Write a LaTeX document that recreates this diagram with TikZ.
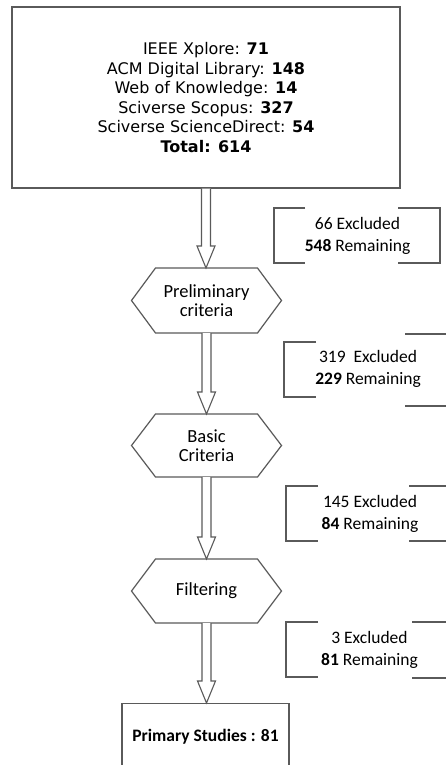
\documentclass[tikz,border=0pt]{standalone}
\usepackage{fontspec}
\setmainfont{DejaVu Sans}
\newfontfamily\calibri{Carlito}
\usetikzlibrary{calc}
\definecolor{linegray}{HTML}{5A5A5A}
\tikzset{
  edge/.style={draw=linegray, line width=1.2pt},
  arrowline/.style={draw=linegray, line width=1.1pt, fill=white, line join=miter},
  srcbox/.style={edge, minimum width=388pt, minimum height=181pt, inner sep=0pt, align=center,
    font=\fontsize{16}{19.5}\selectfont},
  hexa/.style={minimum width=150pt, minimum height=64pt, inner sep=0pt, outer sep=0pt, align=center,
    font=\calibri\fontsize{18.5}{18.5}\selectfont},
  sidetext/.style={align=center, inner sep=0pt, font=\calibri\fontsize{17.5}{22}\selectfont},
  primbox/.style={edge, anchor=north, minimum width=167pt, inner xsep=0pt, inner ysep=26pt,
    font=\calibri\bfseries\fontsize{17.5}{18}\selectfont}
}
\newcommand\hexdraw[1]{\draw[edge] (#1.west) -- ($(#1.north west)+(24,0)$) -- ($(#1.north east)+(-24,0)$) -- (#1.east) -- ($(#1.south east)+(-24,0)$) -- ($(#1.south west)+(24,0)$) -- cycle;}
\newcommand\blockarr[2]{\draw[arrowline] let \p1=(#1.south), \p2=(#2.north) in
  (\x1-4.5pt,\y1) -- (\x1-4.5pt,\y2+22pt) -- (\x1-9pt,\y2+22pt) -- (\x1,\y2) -- (\x1+9pt,\y2+22pt) -- (\x1+4.5pt,\y2+22pt) -- (\x1+4.5pt,\y1);}
\begin{document}
\begin{tikzpicture}[x=1pt,y=-1pt]
\useasboundingbox (0,0) rectangle (446,765);
\clip (0,0) rectangle (446,765);
\fill[white] (0,0) rectangle (446,765);

\node[srcbox] (src) at (206,97.5) {IEEE Xplore: \textbf{71}\\ACM Digital Library: \textbf{148}\\Web of Knowledge: \textbf{14}\\Sciverse Scopus: \textbf{327}\\Sciverse ScienceDirect: \textbf{54}\\\textbf{Total: 614}};

\node[hexa, minimum height=65pt] (h1) at (206.5,300.5) {Preliminary\\criteria};
\node[hexa, minimum height=63pt] (h2) at (206.5,445.5) {Basic\\Criteria};
\node[hexa, minimum height=64pt] (h3) at (206.5,591) {Filtering};
\hexdraw{h1}
\hexdraw{h2}
\hexdraw{h3}

\node[primbox] (prim) at (205.5,703) {Primary Studies : 81};

\blockarr{src}{h1}
\blockarr{h1}{h2}
\blockarr{h2}{h3}
\blockarr{h3}{prim}

% side counts
\node[sidetext] (s1) at (357.5,236) {66 Excluded\\\textbf{548} Remaining};
\draw[edge] (305,208) -- (274,208) -- (274,263) -- (305,263);
\draw[edge] (398,208) -- (440,208) -- (440,263) -- (398,263);

\node[sidetext] (s2) at (368,369) {319\ \ Excluded\\\textbf{229} Remaining};
\draw[edge] (316,342) -- (284,342) -- (284,397) -- (316,397);
\draw[edge] (405,334) -- (450,334);
\draw[edge] (405,406) -- (450,406);

\node[sidetext] (s3) at (370,513.5) {145 Excluded\\\textbf{84} Remaining};
\draw[edge] (318,486) -- (286,486) -- (286,541) -- (318,541);
\draw[edge] (409,486) -- (450,486);
\draw[edge] (409,541) -- (450,541);

\node[sidetext] (s4) at (369.5,650) {3 Excluded\\\textbf{81} Remaining};
\draw[edge] (318,622) -- (286,622) -- (286,677) -- (318,677);
\draw[edge] (412,622) -- (450,622);
\draw[edge] (412,678) -- (450,678);
\end{tikzpicture}
\end{document}
